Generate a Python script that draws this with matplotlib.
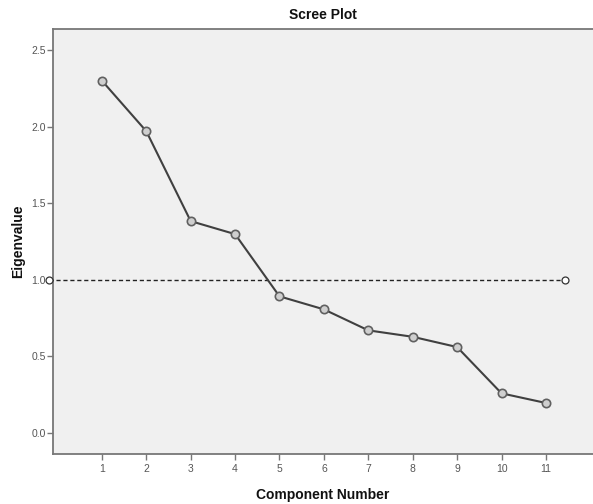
import matplotlib
matplotlib.use("Agg")
import matplotlib.pyplot as plt

components = [1, 2, 3, 4, 5, 6, 7, 8, 9, 10, 11]
eigenvalues = [2.30, 1.97, 1.383, 1.298, 0.892, 0.807, 0.670, 0.628, 0.561, 0.259, 0.196]
y_ticks = [0.0, 0.5, 1.0, 1.5, 2.0, 2.5]
y_tick_labels = ["0.0", "0.5", "1.0", "1.5", "2.0", "2.5"]
ref_value = 1.0
ref_x = [-0.2, 11.43]

plt.rcParams['font.family'] = ['Liberation Sans', 'DejaVu Sans']

fig = plt.figure(figsize=(5.93, 5.04), dpi=100)
fig.patch.set_facecolor('white')
ax = fig.add_axes([0.0894, 0.0992, 0.9106, 0.8433])
ax.set_facecolor('#f0f0f0')

ax.plot(ref_x, [ref_value, ref_value], linestyle=(0, (3, 2)), color='#222222',
        linewidth=1.0, marker='o', markersize=5, markerfacecolor='white',
        markeredgecolor='#333333', markeredgewidth=0.9, clip_on=False, zorder=3)

ax.plot(components, eigenvalues, color='#404040', linewidth=1.5, zorder=4,
        marker='o', markersize=6, markerfacecolor='#cfcfcf',
        markeredgecolor='#606060', markeredgewidth=1.2)

ax.set_xlim(-0.10, 12.06)
ax.set_ylim(-0.137, 2.637)
ax.set_xticks(components)
ax.set_xticklabels([str(c) for c in components])
ax.set_yticks(y_ticks)
ax.set_yticklabels(y_tick_labels)

for side in ['left', 'bottom', 'top']:
    ax.spines[side].set_color('#777777')
    ax.spines[side].set_linewidth(1.3)
ax.spines['right'].set_visible(False)

ax.tick_params(axis='both', colors='#777777', labelcolor='#555555', labelsize=7.5,
               length=4, width=1.0, direction='out')
ax.tick_params(axis='y', pad=1)

ax.set_title('Scree Plot', fontsize=10, fontweight='bold', color='#111111', pad=7)
ax.set_xlabel('Component Number', fontsize=10, fontweight='bold', color='#111111', labelpad=10)
ax.set_ylabel('Eigenvalue', fontsize=10, fontweight='bold', color='#111111', labelpad=5)

fig.savefig('out.png', dpi=100, facecolor='white')
